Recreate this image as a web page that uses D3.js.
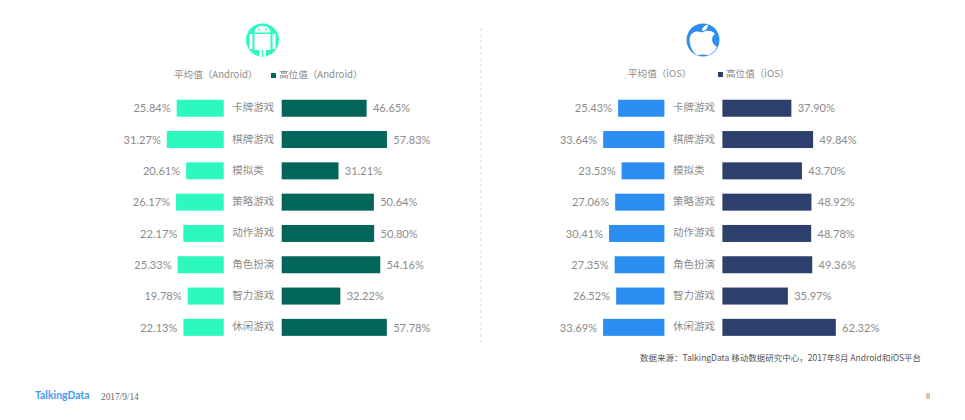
<!DOCTYPE html>
<html>
<head>
<meta charset="utf-8">
<script src="https://cdn.jsdelivr.net/npm/d3@7"></script>
<style>
html, body { margin: 0; padding: 0; background: #fff; }
svg { display: block; }
text { font-family: Lato, "Noto Sans CJK SC", sans-serif; }
.cn { font-family: "Noto Sans CJK SC", sans-serif; }
</style>
</head>
<body>
<div id="chart"></div>
<script>
// Chart values
var categories = ['卡牌游戏', '棋牌游戏', '模拟类', '策略游戏', '动作游戏', '角色扮演', '智力游戏', '休闲游戏'];
var androidAvg = [25.84, 31.27, 20.61, 26.17, 22.17, 25.33, 19.78, 22.13];
var androidHigh = [46.65, 57.83, 31.21, 50.64, 50.80, 54.16, 32.22, 57.78];
var iosAvg = [25.43, 33.64, 23.53, 27.06, 30.41, 27.35, 26.52, 33.69];
var iosHigh = [37.90, 49.84, 43.70, 48.92, 48.78, 49.36, 35.97, 62.32];

var width = 965, height = 420;
var grey = '#8c8c8c';

var svg = d3.select('#chart').append('svg')
    .attr('width', width).attr('height', height);

// Shared scales
var yScale = d3.scaleBand().domain(categories).range([92.6, 343]).paddingInner(0.457).paddingOuter(0.228);
var xLen = d3.scaleLinear().domain([0, 100]).range([0, 182]);

/* --------------------------------------
   One panel: mirrored bars around the category names
   -------------------------------------- */
function drawPanel(avg, high, leftEdge, rightEdge, avgColor, highColor) {
    var g = svg.append('g');
    var rows = g.selectAll('g').data(categories).enter().append('g');

    rows.append('rect')
        .attr('x', function(d, i) { return leftEdge - xLen(avg[i]); })
        .attr('y', function(d) { return yScale(d); })
        .attr('width', function(d, i) { return xLen(avg[i]); })
        .attr('height', yScale.bandwidth())
        .attr('fill', avgColor);

    rows.append('rect')
        .attr('x', rightEdge)
        .attr('y', function(d) { return yScale(d); })
        .attr('width', function(d, i) { return xLen(high[i]); })
        .attr('height', yScale.bandwidth())
        .attr('fill', highColor);

    rows.append('text')
        .attr('x', function(d, i) { return leftEdge - xLen(avg[i]) - 6; })
        .attr('y', function(d) { return yScale(d) + yScale.bandwidth() / 2 + 4.2; })
        .attr('text-anchor', 'end')
        .attr('font-size', 11.1)
        .attr('fill', grey)
        .text(function(d, i) { return avg[i].toFixed(2) + '%'; });

    rows.append('text')
        .attr('x', function(d, i) { return rightEdge + xLen(high[i]) + 6.3; })
        .attr('y', function(d) { return yScale(d) + yScale.bandwidth() / 2 + 4.2; })
        .attr('font-size', 11.1)
        .attr('fill', grey)
        .text(function(d, i) { return high[i].toFixed(2) + '%'; });

    rows.append('text')
        .attr('class', 'cn')
        .attr('x', leftEdge + 8.5)
        .attr('y', function(d) { return yScale(d) + yScale.bandwidth() / 2 + 3; })
        .attr('font-size', 10.5)
        .attr('fill', grey)
        .text(function(d) { return d; });
}

drawPanel(androidAvg, androidHigh, 223.7, 281.7, '#2cf8c0', '#02655a');
drawPanel(iosAvg, iosHigh, 664.4, 722.4, '#2b8ef0', '#2c3f6d');

// Legends
function legendText(x, y, str) {
    svg.append('text').attr('class', 'cn').attr('x', x).attr('y', y)
        .attr('font-size', 9.6).attr('fill', grey).text(str);
}
legendText(174, 78, '平均值（Android）');
svg.append('rect').attr('x', 271).attr('y', 73).attr('width', 5).attr('height', 5).attr('fill', '#02655a');
legendText(279, 78, '高位值（Android）');
legendText(628, 77, '平均值（iOS）');
svg.append('rect').attr('x', 718).attr('y', 72).attr('width', 5).attr('height', 5).attr('fill', '#2c3f6d');
legendText(726, 77, '高位值（iOS）');

// Divider
svg.append('line').attr('x1', 481).attr('x2', 481).attr('y1', 28).attr('y2', 345)
    .attr('stroke', '#d8d8d8').attr('stroke-dasharray', '3,3');

// Android icon
var droid = svg.append('g').attr('transform', 'translate(262.5,40)');
droid.append('circle').attr('r', 16.5).attr('fill', '#2cf8c0');
droid.append('path').attr('fill', '#fff')
    .attr('d', 'M-8,-7.5 C-8,-12 -4,-14 0,-14 C4,-14 8,-12 8,-7.5 Z M-8,-6 H8 V10 H3.5 V16 H0.7 V10 H-0.7 V16 H-3.5 V10 H-8 Z M-13,-6 H-10 V9 H-13 Z M10,-6 H13 V9 H10 Z');
droid.append('circle').attr('cx', -3.5).attr('cy', -10.5).attr('r', 1).attr('fill', '#2cf8c0');
droid.append('circle').attr('cx', 3.5).attr('cy', -10.5).attr('r', 1).attr('fill', '#2cf8c0');

// Apple icon
var apple = svg.append('g').attr('transform', 'translate(703,40)');
apple.append('circle').attr('r', 16.5).attr('fill', '#2b8ef0');
apple.append('path').attr('fill', '#fff')
    .attr('d', 'M-1,-7.5 C-6,-10 -13.5,-8 -13.5,0 C-13.5,6 -10,13 -6,15 C-3,15.5 -2,14.5 0,14.5 C2,14.5 4,15.5 6,15 C10,13 13,10 14,6.5 C9,5 7,-3 12,-6 C9,-10 3,-10 -1,-7.5 Z');
apple.append('path').attr('fill', '#fff')
    .attr('d', 'M-1,-9 C-1,-12.5 2,-15 5,-15.5 C5,-12 3,-9 -1,-9 Z');

// Footer
svg.append('text').attr('class', 'cn').attr('x', 640).attr('y', 361)
    .attr('font-size', 8.5).attr('fill', '#555').text('数据来源：TalkingData 移动数据研究中心，2017年8月 Android和iOS平台');
svg.append('text').attr('x', 35).attr('y', 399)
    .attr('font-size', 10.4).attr('font-weight', 700).attr('fill', '#3d9bf5').text('TalkingData');
svg.append('text').attr('x', 101).attr('y', 400).style('font-family', '"Liberation Serif", serif')
    .attr('font-size', 9.3).attr('fill', '#666').text('2017/9/14');
svg.append('text').attr('x', 926).attr('y', 399).style('font-family', '"Liberation Serif", serif')
    .attr('font-size', 8).attr('fill', '#777').text('8');
</script>
</body>
</html>
